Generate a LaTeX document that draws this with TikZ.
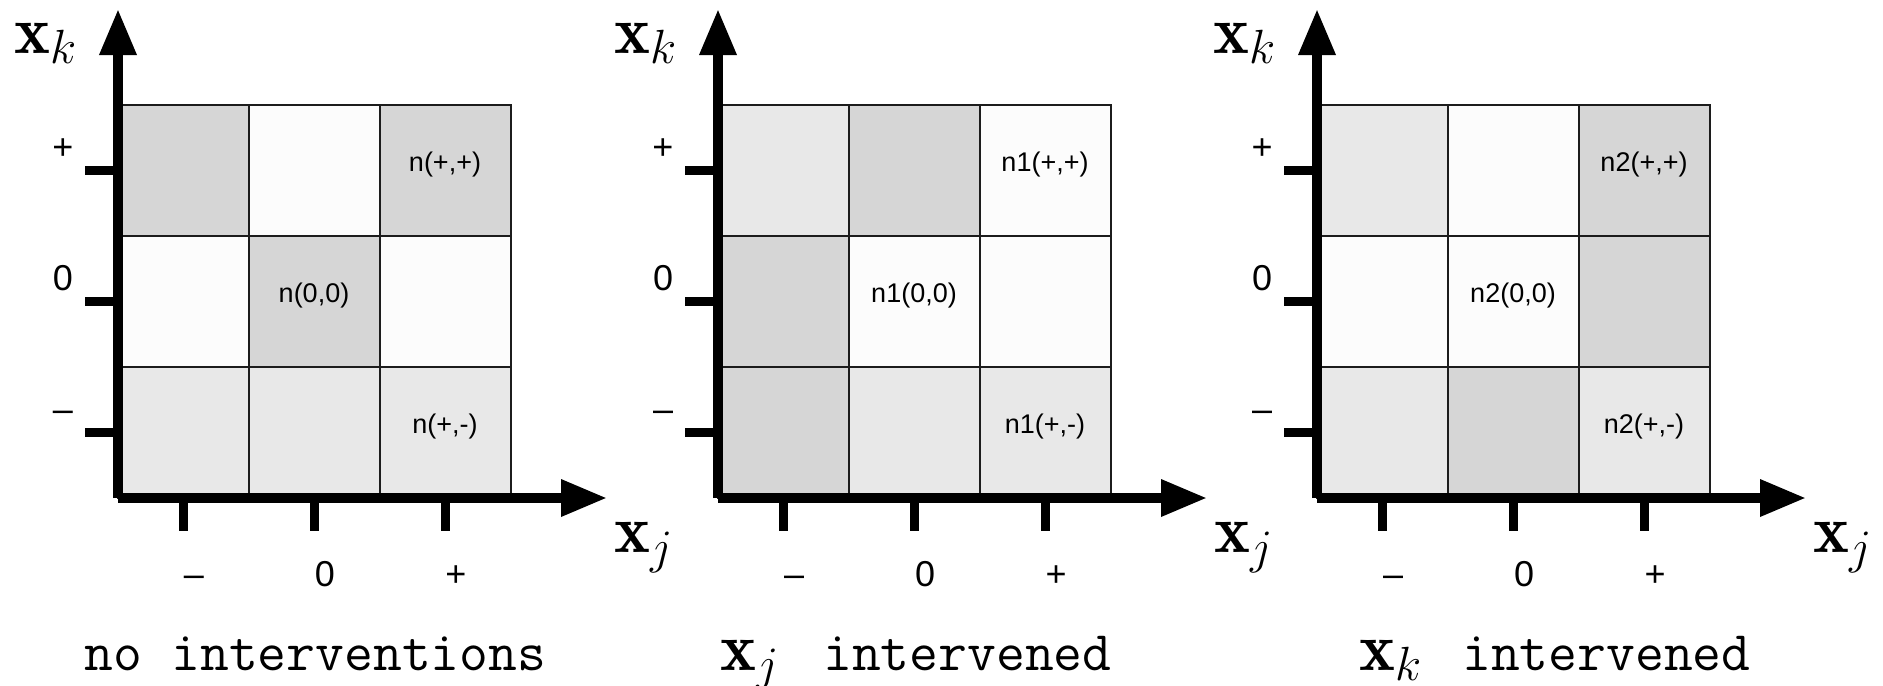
\documentclass[tikz,border=0pt]{standalone}
\usepackage{fontspec}
\usetikzlibrary{positioning, calc, arrows.meta}
\newfontfamily\LabelSans{Liberation Sans}
\definecolor{ink}{HTML}{000000}
\definecolor{gridc}{HTML}{1C1C1C}
\definecolor{celldark}{HTML}{D6D6D6}
\definecolor{celllight}{HTML}{E8E8E8}
\definecolor{cellwhite}{HTML}{FCFCFC}
\newcommand{\AxisF}{\fontsize{17}{20}\selectfont}
\newcommand{\TickF}{\LabelSans\fontsize{9}{11}\selectfont}
\newcommand{\CellF}{\LabelSans\fontsize{6.75}{8}\selectfont}
\newcommand{\CaptionF}{\ttfamily\fontsize{14}{17}\selectfont}

\tikzset{
  cellbox/.style={rectangle, draw=gridc, line width=0.5pt, minimum size=32.75pt, inner sep=0},
  cellnote/.style={font=\CellF, inner sep=0},
  axisline/.style={draw=ink, line width=2.375pt, -{Triangle[length=11.5pt, width=8.75pt]}},
  tickline/.style={draw=ink, line width=2.25pt},
  ticklabel/.style={font=\TickF, anchor=base, inner sep=0},
  axislabel/.style={font=\AxisF, anchor=base west, inner sep=0},
  captionlabel/.style={anchor=base west, inner sep=0}
}

% #1 name, #2 x offset, #3 nine fills (top row first), #4 count prefix, #5 caption x, #6 caption
\newcommand{\CellPanel}[6]{%
  \begin{scope}[xshift=#2*0.25pt]
    \foreach \fc [count=\i from 0] in {#3} {
      \pgfmathtruncatemacro{\rw}{div(\i,3)}
      \pgfmathtruncatemacro{\cl}{mod(\i,3)}
      \node[cellbox, fill=\fc] (#1-\rw\cl) at (183+131*\cl, 170.5+131*\rw) {};
    }
    \node[cellnote] (#1-npp) at ([yshift=1.4pt]#1-02.center) {#4(+,+)};
    \node[cellnote] (#1-nzz) at ([yshift=1.4pt]#1-11.center) {#4(0,0)};
    \node[cellnote] (#1-npm) at ([yshift=1.4pt]#1-22.center) {#4(+,-)};
    \coordinate (#1-o) at (118,498);
    \coordinate (#1-ytip) at (118,9);
    \coordinate (#1-xtip) at (607,498);
    \foreach \k/\lab in {0/+, 1/0, 2/\textendash} {
      \draw[tickline] (85,170.5+131*\k) -- (118,170.5+131*\k);
      \node[ticklabel] (#1-yl\k) at (63,159.5+131*\k) {\lab};
    }
    \foreach \k/\lab in {0/\textendash, 1/0, 2/+} {
      \draw[tickline] (183+131*\k,498) -- (183+131*\k,531);
      \node[ticklabel] (#1-xl\k) at (194+131*\k,586) {\lab};
    }
    \draw[axisline] (#1-o) -- (#1-ytip);
    \draw[axisline] (#1-o) -- (#1-xtip);
    \node[axislabel] (#1-xk) at (14,53) {$\mathbf{x}_k$};
    \node[axislabel] (#1-xj) at (614,552.7) {$\mathbf{x}_j$};
    \node[captionlabel] (#1-cap) at (#5,670) {#6};
  \end{scope}}

\begin{document}
\begin{tikzpicture}[x=0.25pt, y=-0.25pt]
  \useasboundingbox (0,0) rectangle (1883,685);
  \CellPanel{none}{0}{celldark,cellwhite,celldark,cellwhite,celldark,cellwhite,celllight,celllight,celllight}{n}{84}
    {\CaptionF no interventions}
  \CellPanel{jint}{600}{celllight,celldark,cellwhite,celldark,cellwhite,cellwhite,celldark,celllight,celllight}{n1}{120}
    {\makebox[25.6pt][l]{\AxisF$\mathbf{x}_j$}\CaptionF intervened}
  \CellPanel{kint}{1199}{celllight,cellwhite,celldark,cellwhite,cellwhite,celldark,celllight,celldark,celllight}{n2}{160}
    {\makebox[25.6pt][l]{\AxisF$\mathbf{x}_k$}\CaptionF intervened}
\end{tikzpicture}
\end{document}
